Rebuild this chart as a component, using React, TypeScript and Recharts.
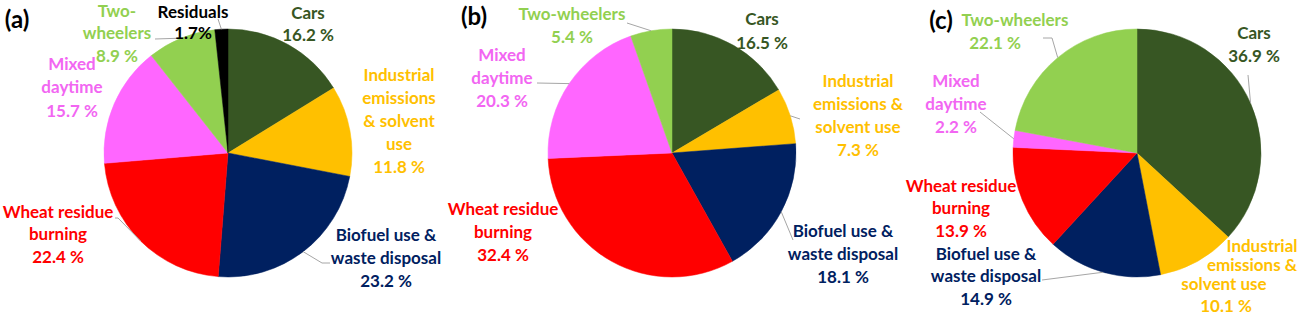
import React from 'react';
import { PieChart, Pie, Cell } from 'recharts';

// ---------- data ----------
const categories = [
  'Cars',
  'Industrial emissions & solvent use',
  'Biofuel use & waste disposal',
  'Wheat residue burning',
  'Mixed daytime',
  'Two-wheelers',
  'Residuals',
];
const valuesA = [16.2, 11.8, 23.2, 22.4, 15.7, 8.9, 1.7];
const valuesB = [16.5, 7.3, 18.1, 32.4, 20.3, 5.4];
const valuesC = [36.9, 10.1, 14.9, 13.9, 2.2, 22.1];
const panelTitles = ['(a)', '(b)', '(c)'];

// wrapped label text for each panel
const wrapA = [
  ['Cars'],
  ['Industrial', 'emissions', '& solvent', 'use'],
  ['Biofuel use &', 'waste disposal'],
  ['Wheat residue', 'burning'],
  ['Mixed', 'daytime'],
  ['Two-', 'wheelers'],
  ['Residuals'],
];
const wrapB = [
  ['Cars'],
  ['Industrial', 'emissions &', 'solvent use'],
  ['Biofuel use &', 'waste disposal'],
  ['Wheat residue', 'burning'],
  ['Mixed', 'daytime'],
  ['Two-wheelers'],
];
const wrapC = [
  ['Cars'],
  ['Industrial', 'emissions &', 'solvent use'],
  ['Biofuel use &', 'waste disposal'],
  ['Wheat residue', 'burning'],
  ['Mixed', 'daytime'],
  ['Two-wheelers'],
];

// ---------- styles ----------
const sliceColors = ['#375623', '#FFC000', '#002060', '#FF0000', '#FF66FF', '#92D050', '#000000'];
const textColors = ['#375623', '#FFC000', '#002060', '#FF0000', '#F266F2', '#92D050', '#000000'];
const FONT = 'Lato, "Open Sans", sans-serif';
const LEADER = '#A6A6A6';

type Lay = { dx: number; dy: number; lh: number; lineDx?: number[]; lineDy?: number[]; leader?: [number, number][]; sep?: string };

// label placement, relative to each pie centre
const layoutA: Lay[] = [
  { dx: 80, dy: -141, lh: 22 },
  { dx: 171, dy: -79, lh: 23 },
  { dx: 158, dy: 81, lh: 23, leader: [[102, 110], [94, 110]] },
  { dx: -170, dy: 58, lh: 22.5, leader: [[-113, 65], [-110, 65]] },
  { dx: -156, dy: -90, lh: 23.5 },
  { dx: -111, dy: -143, lh: 22.5, leader: [[-73, -114]] },
  { dx: -35, dy: -142, lh: 21, leader: [[-10, -134]], sep: '' },
];
const layoutB: Lay[] = [
  { dx: 90, dy: -135, lh: 24 },
  { dx: 186, dy: -73, lh: 23, leader: [[128, -34]] },
  { dx: 171, dy: 77, lh: 23, leader: [[121, 87]] },
  { dx: -169, dy: 55, lh: 23 },
  { dx: -170, dy: -99, lh: 23, leader: [[-135, -70]] },
  { dx: -100, dy: -140, lh: 23, leader: [[-45, -130]] },
];
const layoutC: Lay[] = [
  { dx: 117, dy: -121, lh: 23, leader: [[111, -78]] },
  { dx: 125, dy: 92, lh: 19, lineDx: [0, -10, -38, -36], lineDy: [0, 19.5, 38.5, 60] },
  { dx: -151, dy: 100, lh: 22.5, leader: [[-95, 127], [-40, 120]] },
  { dx: -176, dy: 32, lh: 22.5 },
  { dx: -181, dy: -73, lh: 23, leader: [[-157, -41]] },
  { dx: -122, dy: -134, lh: 23, lineDx: [0, -20], leader: [[-94, -115], [-85, -115]] },
];

const panels = [
  { values: valuesA, wrap: wrapA, layout: layoutA, cx: 228, cy: 153, tx: 17, ty: 18 },
  { values: valuesB, wrap: wrapB, layout: layoutB, cx: 672, cy: 153, tx: 474, ty: 15 },
  { values: valuesC, wrap: wrapC, layout: layoutC, cx: 1137, cy: 153, tx: 941, ty: 19 },
];

const RAD = Math.PI / 180;

const makeLabel = (wrap: string[][], layout: Lay[]) => (props: any) => {
  const { cx, cy, midAngle, outerRadius, index } = props;
  const value = props.value ?? props.payload?.value;
  const L = layout[index];
  if (!L) return null;
  const ex = cx + outerRadius * Math.cos(-midAngle * RAD);
  const ey = cy + outerRadius * Math.sin(-midAngle * RAD);
  const lines = [...wrap[index], `${Number(value).toFixed(1)}${L.sep ?? ' '}%`];
  const color = textColors[index];
  let leader = null;
  if (L.leader) {
    const pts = [...L.leader.map(([x, y]) => [cx + x, cy + y]), [ex, ey]];
    leader = (
      <polyline
        points={pts.map((p) => p.join(',')).join(' ')}
        fill="none"
        stroke={LEADER}
        strokeWidth={1}
      />
    );
  }
  return (
    <g key={`lab-${index}`}>
      {leader}
      {lines.map((t, i) => (
        <text
          key={i}
          x={cx + L.dx + (L.lineDx?.[i] ?? 0)}
          y={cy + L.dy + (L.lineDy ? L.lineDy[i] : i * L.lh)}
          textAnchor="middle"
          dominantBaseline="central"
          fill={color}
          fontFamily={FONT}
          fontWeight={700}
          fontSize={17}
        >
          {t}
        </text>
      ))}
    </g>
  );
};

export default function App() {
  return (
    <div style={{ position: 'absolute', left: 0, top: 0, width: 1304, height: 314, background: '#fff', overflow: 'hidden' }}>
      <PieChart width={1304} height={314} margin={{ top: 0, right: 0, bottom: 0, left: 0 }}>
        {panels.map((p, pi) => {
          const data = p.values.map((v, i) => ({ name: categories[i], value: v }));
          return (
            <Pie
              key={pi}
              data={data}
              dataKey="value"
              nameKey="name"
              cx={p.cx}
              cy={p.cy}
              outerRadius={124}
              startAngle={90}
              endAngle={-270}
              isAnimationActive={false}
              labelLine={false}
              label={makeLabel(p.wrap, p.layout)}
            >
              {data.map((d, i) => (
                <Cell key={i} fill={sliceColors[i]} stroke={sliceColors[i]} strokeWidth={0.5} />
              ))}
            </Pie>
          );
        })}
      </PieChart>
      <svg width={1304} height={314} style={{ position: 'absolute', left: 0, top: 0, pointerEvents: 'none' }}>
        {panels.map((p, pi) => (
          <text
            key={pi}
            x={p.tx}
            y={p.ty}
            textAnchor="middle"
            dominantBaseline="central"
            fontFamily={FONT}
            fontWeight={700}
            fontSize={24}
            fill="#000"
          >
            {panelTitles[pi]}
          </text>
        ))}
      </svg>
    </div>
  );
}
